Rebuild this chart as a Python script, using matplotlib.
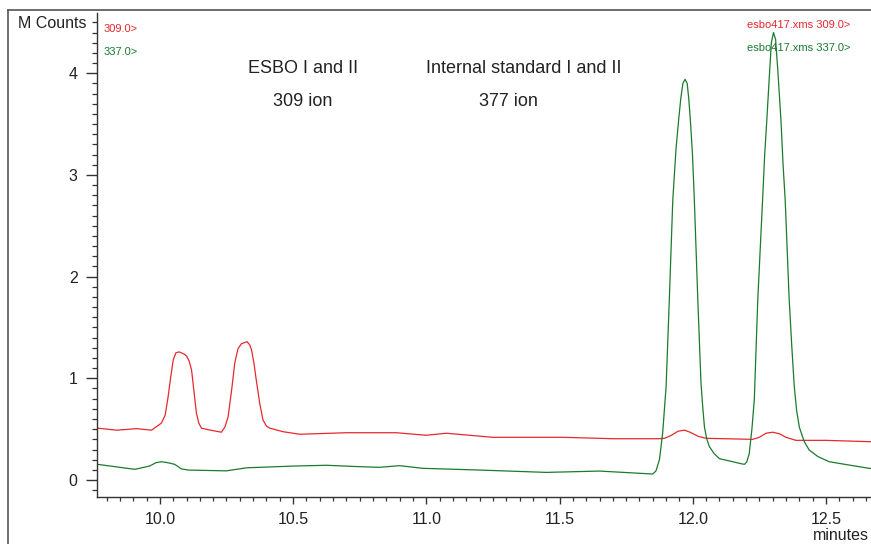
import matplotlib
matplotlib.use("Agg")
import matplotlib.pyplot as plt
from matplotlib.lines import Line2D
from matplotlib.ticker import MultipleLocator

plt.rcParams['font.family'] = ['Liberation Sans', 'DejaVu Sans']

# Retention time (minutes) and intensity (M counts) for ion 309 (red)
t_309 = [9.766, 9.838, 9.912, 9.969, 10.006, 10.02, 10.031, 10.04, 10.05, 10.06,
         10.072, 10.09, 10.1, 10.11, 10.119, 10.128, 10.137, 10.146, 10.156, 10.19,
         10.231, 10.244, 10.256, 10.27, 10.281, 10.293, 10.306, 10.327, 10.337, 10.344,
         10.353, 10.362, 10.375, 10.387, 10.4, 10.412, 10.462, 10.525, 10.7, 10.887,
         11.0, 11.075, 11.25, 11.512, 11.7, 11.875, 11.894, 11.92, 11.945, 11.969,
         11.99, 12.02, 12.05, 12.225, 12.25, 12.275, 12.3, 12.325, 12.35, 12.387,
         12.5, 12.662, 12.669]
i_309 = [0.51, 0.49, 0.505, 0.49, 0.56, 0.64, 0.82, 1.0, 1.18, 1.25,
         1.26, 1.24, 1.22, 1.17, 1.08, 0.87, 0.66, 0.56, 0.51, 0.49,
         0.47, 0.52, 0.62, 0.9, 1.15, 1.29, 1.34, 1.36, 1.33, 1.28,
         1.15, 0.98, 0.75, 0.59, 0.53, 0.51, 0.475, 0.45, 0.465, 0.465,
         0.44, 0.46, 0.42, 0.42, 0.406, 0.406, 0.41, 0.44, 0.48, 0.49,
         0.47, 0.43, 0.41, 0.40, 0.42, 0.46, 0.47, 0.455, 0.42, 0.39,
         0.39, 0.377, 0.377]

# Retention time (minutes) and intensity (M counts) for ion 337 (green)
t_337 = [9.766, 9.906, 9.962, 9.985, 10.006, 10.03, 10.056, 10.08, 10.106, 10.25,
         10.325, 10.5, 10.625, 10.75, 10.825, 10.9, 10.987, 11.2, 11.45, 11.65,
         11.85, 11.862, 11.875, 11.887, 11.9, 11.912, 11.925, 11.937, 11.947, 11.955,
         11.963, 11.971, 11.979, 11.985, 11.991, 11.999, 12.006, 12.019, 12.031, 12.038,
         12.044, 12.052, 12.062, 12.08, 12.1, 12.15, 12.187, 12.195, 12.203, 12.212,
         12.222, 12.231, 12.244, 12.262, 12.27, 12.278, 12.287, 12.295, 12.303, 12.311,
         12.32, 12.331, 12.339, 12.347, 12.362, 12.372, 12.381, 12.39, 12.4, 12.418,
         12.437, 12.47, 12.512, 12.58, 12.662, 12.669]
i_337 = [0.154, 0.105, 0.138, 0.17, 0.18, 0.17, 0.154, 0.11, 0.098, 0.09,
         0.12, 0.137, 0.145, 0.131, 0.125, 0.141, 0.115, 0.098, 0.075, 0.088,
         0.059, 0.09, 0.2, 0.46, 0.92, 1.77, 2.75, 3.25, 3.54, 3.75,
         3.9, 3.94, 3.9, 3.75, 3.54, 3.2, 2.75, 1.77, 0.95, 0.7,
         0.52, 0.41, 0.33, 0.26, 0.21, 0.18, 0.157, 0.155, 0.18, 0.26,
         0.5, 0.79, 1.77, 2.75, 3.2, 3.54, 3.95, 4.3, 4.40, 4.33,
         4.0, 3.54, 3.1, 2.75, 1.77, 1.3, 0.92, 0.68, 0.52, 0.38,
         0.295, 0.23, 0.18, 0.15, 0.115, 0.113]

x_ticks = [10.0, 10.5, 11.0, 11.5, 12.0, 12.5]
y_ticks = [0, 1, 2, 3, 4]

RED = "#e8282c"
GREEN = "#1b7a2e"
TXT = "#222222"

fig = plt.figure(figsize=(8.71, 5.44), dpi=100)
ax = fig.add_axes([97/871, 1 - 497/544, 1 - 97/871, (497 - 12.7)/544])

ax.plot(t_309, i_309, color=RED, lw=0.9)
ax.plot(t_337, i_337, color=GREEN, lw=0.9)

ax.set_xlim(9.764, 12.669)
ax.set_ylim(-0.167, 4.595)

for s in ['top', 'right']:
    ax.spines[s].set_visible(False)
for s in ['left', 'bottom']:
    ax.spines[s].set_color("#333333")
    ax.spines[s].set_linewidth(1.0)

ax.set_xticks(x_ticks)
ax.set_xticklabels([f"{v:.1f}" for v in x_ticks])
ax.set_yticks(y_ticks)
ax.set_yticklabels([str(v) for v in y_ticks])
ax.xaxis.set_minor_locator(MultipleLocator(0.05))
ax.yaxis.set_minor_locator(MultipleLocator(0.1))
ax.tick_params(axis='both', which='major', labelsize=11.5, colors="#333333", labelcolor=TXT)
ax.tick_params(axis='y', which='major', length=8, width=1.0, pad=6)
ax.tick_params(axis='y', which='minor', length=3.5, width=0.9, colors="#333333")
ax.tick_params(axis='x', which='major', length=5, width=1.0, pad=6)
ax.tick_params(axis='x', which='minor', length=3, width=0.9, colors="#333333")
ax.tick_params(axis='y', which='major', right=True, direction='out')

small = 8
ax.text(0.009, 0.966, "309.0>", color=RED, fontsize=small, transform=ax.transAxes, ha='left', va='center')
ax.text(0.009, 0.919, "337.0>", color=GREEN, fontsize=small, transform=ax.transAxes, ha='left', va='center')
ax.text(0.840, 0.975, "esbo417.xms 309.0>", color=RED, fontsize=small, transform=ax.transAxes, ha='left', va='center')
ax.text(0.840, 0.927, "esbo417.xms 337.0>", color=GREEN, fontsize=small, transform=ax.transAxes, ha='left', va='center')

big = 13
ax.text(0.266, 0.884, "ESBO I and II", color=TXT, fontsize=big, transform=ax.transAxes, ha='center', va='center')
ax.text(0.266, 0.816, "309 ion", color=TXT, fontsize=big, transform=ax.transAxes, ha='center', va='center')
ax.text(0.552, 0.884, "Internal standard I and II", color=TXT, fontsize=big, transform=ax.transAxes, ha='center', va='center')
ax.text(0.531, 0.816, "377 ion", color=TXT, fontsize=big, transform=ax.transAxes, ha='center', va='center')

fig.text(86/871, 1 - 23/544, "M Counts", color=TXT, fontsize=11.5, ha='right', va='center')
fig.text(869/871, 1 - 535/544, "minutes", color=TXT, fontsize=11.5, ha='right', va='center')

# outer frame (left and top)
fig.add_artist(Line2D([8/871, 8/871], [0, 1 - 10/544], transform=fig.transFigure, color="#555555", lw=1.2))
fig.add_artist(Line2D([8/871, 1], [1 - 10/544, 1 - 10/544], transform=fig.transFigure, color="#555555", lw=1.2))

fig.savefig("out.png", dpi=100)
